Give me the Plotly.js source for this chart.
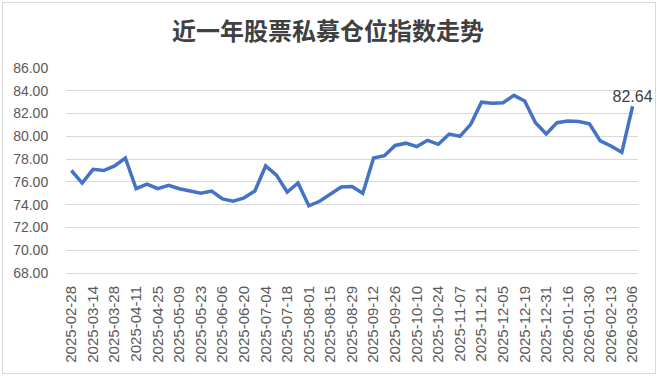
<!DOCTYPE html>
<html>
<head>
<meta charset="utf-8">
<script src="https://cdn.plot.ly/plotly-3.0.1.min.js"></script>
<style>
html,body{margin:0;padding:0;background:#fff;}
#wrap{position:relative;width:660px;height:377px;}
#chart{position:absolute;left:0;top:0;width:660px;height:377px;}
#frame{position:absolute;left:2px;top:2px;width:652px;height:370px;border:1.5px solid #d9d9d9;pointer-events:none;}
</style>
</head>
<body>
<div id="wrap"><div id="chart"></div><div id="frame"></div></div>
<script>
const dates = [
"2025-02-28","2025-03-07","2025-03-14","2025-03-21","2025-03-28","2025-04-03","2025-04-11","2025-04-18",
"2025-04-25","2025-04-30","2025-05-09","2025-05-16","2025-05-23","2025-05-30","2025-06-06","2025-06-13",
"2025-06-20","2025-06-27","2025-07-04","2025-07-11","2025-07-18","2025-07-25","2025-08-01","2025-08-08",
"2025-08-15","2025-08-22","2025-08-29","2025-09-05","2025-09-12","2025-09-19","2025-09-26","2025-09-30",
"2025-10-10","2025-10-17","2025-10-24","2025-10-31","2025-11-07","2025-11-14","2025-11-21","2025-11-28",
"2025-12-05","2025-12-12","2025-12-19","2025-12-26","2025-12-31","2026-01-09","2026-01-16","2026-01-23",
"2026-01-30","2026-02-06","2026-02-13","2026-02-27","2026-03-06"
];
const positionIndex = [
77.0,75.9,77.1,77.0,77.4,78.1,75.4,75.8,
75.4,75.7,75.4,75.2,75.0,75.2,74.5,74.3,
74.6,75.2,77.4,76.6,75.1,75.9,73.9,74.3,
74.9,75.55,75.6,75.0,78.1,78.3,79.2,79.4,
79.1,79.65,79.3,80.2,80.0,81.05,83.0,82.9,
82.95,83.6,83.1,81.2,80.2,81.2,81.35,81.3,
81.1,79.6,79.15,78.6,82.64
];
const tickLabels = dates.filter((d,i)=>i%2===0);
const titleText = "近一年股票私募仓位指数走势";
const yTicks = [68,70,72,74,76,78,80,82,84,86];

const lastIdx = positionIndex.length-1;
const labels = positionIndex.map((v,i)=> i===lastIdx ? v.toFixed(2) : "");

const numFont = "Liberation Sans, Arial, sans-serif";
const trace = {
  type:"scatter",
  mode:"lines+text",
  x: dates,
  y: positionIndex,
  text: labels,
  textposition:"top center",
  textfont:{family:numFont,size:16,color:"#404040"},
  line:{color:"#4472C4",width:3.5},
  hoverinfo:"skip",
  cliponaxis:false
};
const layout = {
  width:660,height:377,
  margin:{l:66,r:22,t:68,b:104},
  paper_bgcolor:"#fff",plot_bgcolor:"#fff",
  showlegend:false,
  title:{text:"<b>"+titleText+"</b>",x:0.497,xanchor:"center",y:0.915,yanchor:"middle",
    font:{family:"Noto Sans CJK SC, sans-serif",size:24,color:"#404040"}},
  xaxis:{
    type:"category",
    range:[-0.5,lastIdx+0.5],
    tickvals:tickLabels,
    ticktext:tickLabels,
    tickangle:-90,
    tickfont:{family:numFont,size:15,color:"#595959"},
    showgrid:false,
    showline:true,linecolor:"#d9d9d9",linewidth:1,
    ticks:"outside",ticklen:6,tickcolor:"rgba(0,0,0,0)",
    zeroline:false,fixedrange:true
  },
  yaxis:{
    range:[68,86],
    tickvals:yTicks,
    tickformat:".2f",
    tickfont:{family:numFont,size:14,color:"#595959"},
    gridcolor:"#d9d9d9",gridwidth:1,
    showline:false,zeroline:false,
    ticks:"outside",ticklen:14,tickcolor:"rgba(0,0,0,0)",
    fixedrange:true
  }
};
Plotly.newPlot("chart",[trace],layout,{displayModeBar:false,staticPlot:true});
</script>
</body>
</html>
